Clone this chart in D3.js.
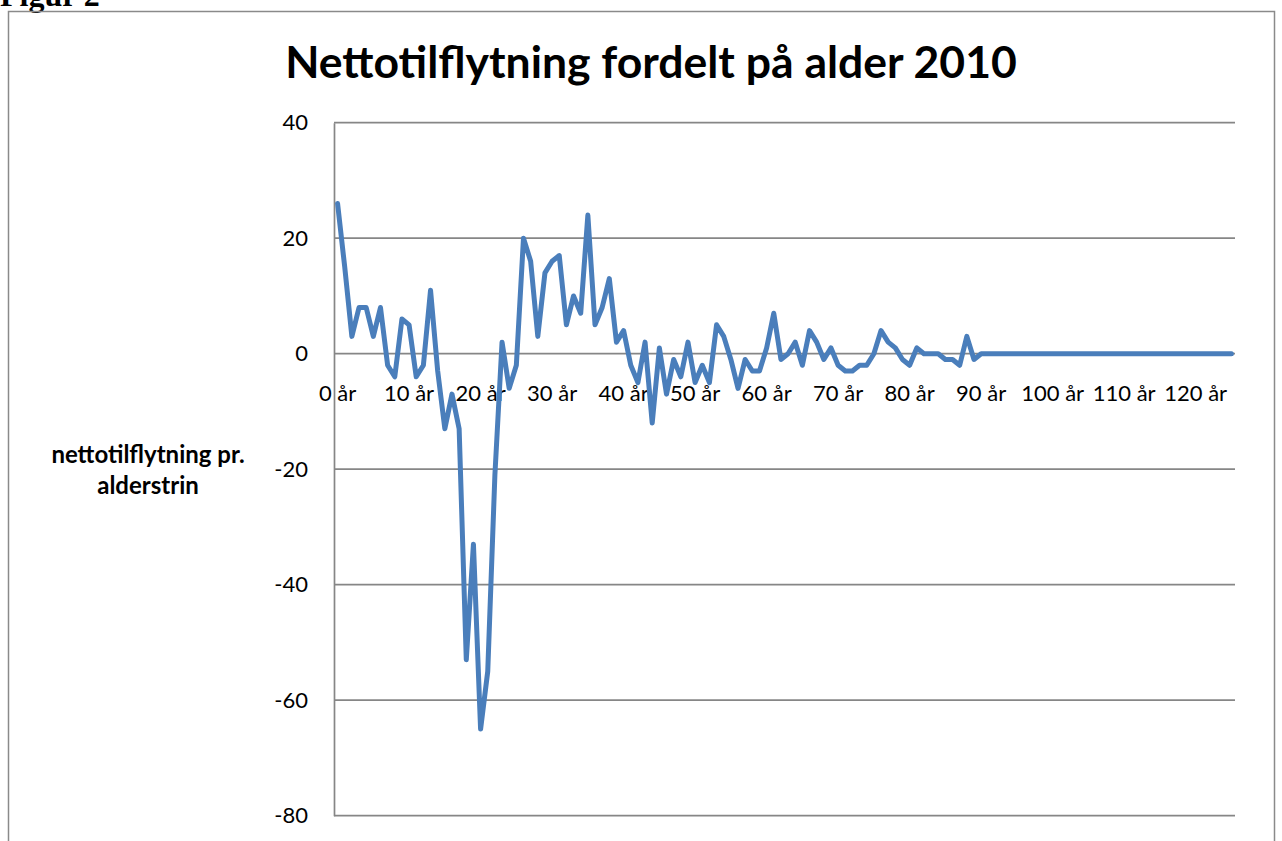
<!DOCTYPE html>
<html>
<head>
<meta charset="utf-8">
<script src="https://cdn.jsdelivr.net/npm/d3@7"></script>
<style>
  body { margin: 0; background: #fff; }
  svg { display: block; }
</style>
</head>
<body>
<div id="chart"></div>
<script>
// ages 0..125 (category axis)
const ages = d3.range(0, 126).map(a => a + " år");

// net in-migration per age (ages 90+ are flat at 0)
const values = [
  26, 15, 3, 8, 8, 3, 8, -2, -4, 6,
  5, -4, -2, 11, -3, -13, -7, -13, -53, -33,
  -65, -55, -21, 2, -6, -2, 20, 16, 3, 14,
  16, 17, 5, 10, 7, 24, 5, 8, 13, 2,
  4, -2, -5, 2, -12, 1, -7, -1, -4, 2,
  -5, -2, -5, 5, 3, -1, -6, -1, -3, -3,
  1, 7, -1, 0, 2, -2, 4, 2, -1, 1,
  -2, -3, -3, -2, -2, 0, 4, 2, 1, -1,
  -2, 1, 0, 0, 0, -1, -1, -2, 3, -1,
  0, 0, 0, 0, 0, 0, 0, 0, 0, 0,
  0, 0, 0, 0, 0, 0, 0, 0, 0, 0,
  0, 0, 0, 0, 0, 0, 0, 0, 0, 0,
  0, 0, 0, 0, 0, 0
];

const yTicks = [40, 20, 0, -20, -40, -60, -80];
const xTickLabels = ages.filter((d, i) => i % 10 === 0);

const width = 1282, height = 841;
const plot = { left: 334, right: 1235, top: 122.7, bottom: 815.7 };

const svg = d3.select("#chart")
  .append("svg")
  .attr("width", width)
  .attr("height", height);

// caption above the frame, mostly cut off in the original too
svg.append("text")
  .attr("x", 0)
  .attr("y", 6)
  .style("font-family", "'Liberation Serif', serif")
  .style("font-weight", "bold")
  .style("font-size", "32px")
  .text("Figur 2");

// chart frame
svg.append("rect")
  .attr("x", 8.5)
  .attr("y", 11.5)
  .attr("width", 1266)
  .attr("height", 860)
  .attr("fill", "none")
  .attr("stroke", "#8a8a8a")
  .attr("stroke-width", 1.5);

// scales
const xScale = d3.scaleBand()
  .domain(ages)
  .range([plot.left, plot.right]);

const yScale = d3.scaleLinear()
  .domain([-80, 40])
  .range([plot.bottom, plot.top]);

const xMid = d => xScale(d) + xScale.bandwidth() / 2;

// gridlines
svg.append("g")
  .selectAll("line")
  .data(yTicks)
  .join("line")
  .attr("x1", plot.left)
  .attr("x2", plot.right)
  .attr("y1", d => yScale(d))
  .attr("y2", d => yScale(d))
  .attr("stroke", "#868686")
  .attr("stroke-width", 1.7);

// y axis
const yAxis = d3.axisLeft(yScale)
  .tickValues(yTicks)
  .tickFormat(d => String(d))
  .tickSize(0)
  .tickPadding(26);

const yG = svg.append("g")
  .attr("transform", `translate(${plot.left},0)`)
  .call(yAxis);
yG.select(".domain").attr("stroke", "#868686").attr("stroke-width", 1.7);
yG.selectAll("text")
  .style("font-family", "Lato, sans-serif")
  .style("font-size", "22px")
  .attr("fill", "#000");

// x axis labels (axis sits on the 0 line)
const xAxis = d3.axisBottom(xScale)
  .tickValues(xTickLabels)
  .tickSize(0)
  .tickPadding(32);

const xG = svg.append("g")
  .attr("transform", `translate(0,${yScale(0)})`)
  .call(xAxis);
xG.select(".domain").remove();
xG.selectAll("text")
  .style("font-family", "Lato, sans-serif")
  .style("font-size", "22px")
  .attr("fill", "#000");

// y axis title
const yTitle = svg.append("text")
  .attr("text-anchor", "middle")
  .style("font-family", "Lato, sans-serif")
  .style("font-weight", "bold")
  .style("font-size", "24px");
yTitle.append("tspan").attr("x", 148).attr("y", 463).text("nettotilflytning pr.");
yTitle.append("tspan").attr("x", 148).attr("y", 494).text("alderstrin");

// chart title
svg.append("text")
  .attr("x", 651)
  .attr("y", 78)
  .attr("text-anchor", "middle")
  .style("font-family", "Lato, sans-serif")
  .style("font-weight", "bold")
  .style("font-size", "44.5px")
  .text("Nettotilflytning fordelt på alder 2010");

// the line
const line = d3.line()
  .x((d, i) => xMid(ages[i]))
  .y(d => yScale(d));

svg.append("path")
  .datum(values)
  .attr("fill", "none")
  .attr("stroke", "#4a7ebb")
  .attr("stroke-width", 5)
  .attr("stroke-linejoin", "round")
  .attr("stroke-linecap", "round")
  .attr("d", line);
</script>
</body>
</html>
